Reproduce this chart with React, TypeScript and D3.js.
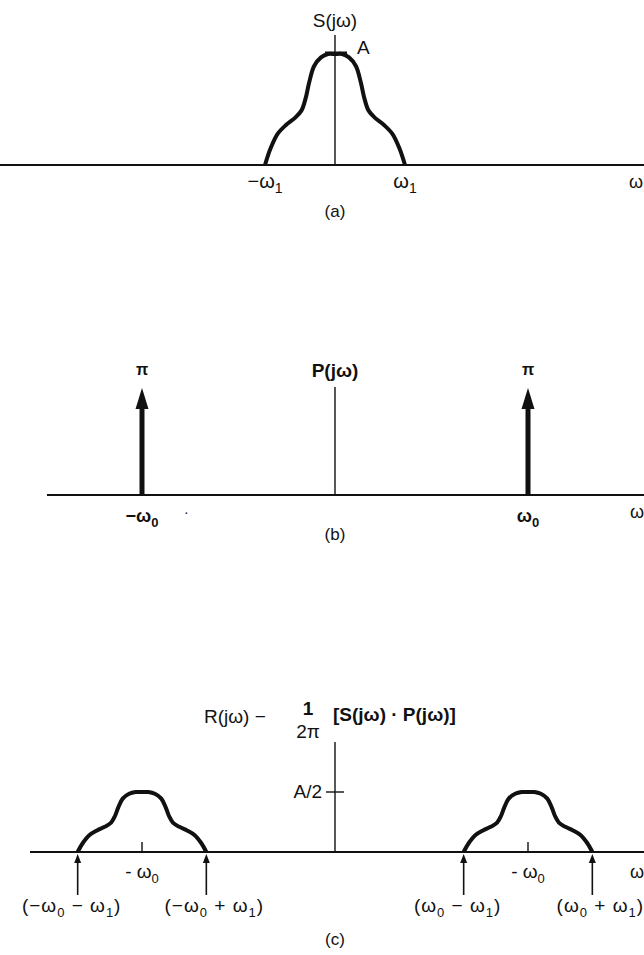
import * as d3 from 'd3'

// S(jω) pulse shape, ω in units of ω1, amplitude in units of A
const shapeW = [-1, -0.92, -0.82, -0.7, -0.58, -0.48, -0.42, -0.37, -0.3, -0.2, -0.1, 0, 0.1, 0.2, 0.3, 0.37, 0.42, 0.48, 0.58, 0.7, 0.82, 0.92, 1]
const shapeA = [0, 0.15, 0.28, 0.36, 0.42, 0.49, 0.6, 0.74, 0.89, 0.97, 1, 1, 1, 0.97, 0.89, 0.74, 0.6, 0.49, 0.42, 0.36, 0.28, 0.15, 0]

// P(jω): impulses at ±ω0 (ω0 = 3 ω1) with area π
const W0 = 3
const W1 = 1
const impulseW = [-W0, W0]
const impulseArea = [Math.PI, Math.PI]
const impulseLabels = ['−ω', 'ω']

// R(jω): replicas at ±ω0 scaled by 1/2
const replicaW = [-W0, W0]
const replicaGain = 0.5

const FONT = 'Liberation Sans, Arial, Helvetica, sans-serif'
const INK = '#111'

const xA = d3.scaleLinear().domain([-W1, W1]).range([265, 405])
const yA = d3.scaleLinear().domain([0, 1]).range([165, 54])
const xBC = d3.scaleLinear().domain([-W0, W0]).range([142, 528])
const yB = d3.scaleLinear().domain([0, Math.PI]).range([495, 388])
const yC = d3.scaleLinear().domain([0, 0.5]).range([852, 792])

const pts = shapeW.map((w, i) => ({ w, a: shapeA[i] }))

function Sub({ base, sub, size = 20, subSize = 14 }: { base: string; sub: string; size?: number; subSize?: number }) {
  return (
    <>
      <tspan fontSize={size}>{base}</tspan>
      <tspan fontSize={subSize} dy={5}>{sub}</tspan>
      <tspan dy={-5}></tspan>
    </>
  )
}

export default function App() {
  const lineA = d3
    .line<{ w: number; a: number }>()
    .x(d => xA(d.w))
    .y(d => yA(d.a))
    .curve(d3.curveCatmullRom)

  const replicaLine = (c: number) =>
    d3
      .line<{ w: number; a: number }>()
      .x(d => xBC(c + d.w * W1))
      .y(d => yC(d.a * replicaGain))
      .curve(d3.curveCatmullRom)(pts) ?? ''

  const cx = xA(0)

  return (
    <svg
      width={644}
      height={955}
      style={{ position: 'absolute', left: 0, top: 0, background: '#fff' }}
      fontFamily={FONT}
      fill={INK}
    >
      {/* ---------- (a) S(jω) ---------- */}
      <line x1={0} x2={644} y1={yA(0)} y2={yA(0)} stroke={INK} strokeWidth={1.8} />
      <line x1={cx} x2={cx} y1={35} y2={yA(0)} stroke={INK} strokeWidth={1.4} />
      <path d={lineA(pts) ?? ''} fill="none" stroke={INK} strokeWidth={4} strokeLinejoin="round" />
      <line x1={cx - 10} x2={cx + 12} y1={yA(1) - 1} y2={yA(1) - 1} stroke={INK} strokeWidth={3} />
      <text x={cx} y={27} textAnchor="middle" fontSize={19}>S(jω)</text>
      <text x={357} y={54} fontSize={19}>A</text>
      <text x={xA(-W1)} y={188} textAnchor="middle">
        <Sub base="−ω" sub="1" />
      </text>
      <text x={xA(W1)} y={188} textAnchor="middle">
        <Sub base="ω" sub="1" />
      </text>
      <text x={629} y={188} fontSize={18}>ω</text>
      <text x={cx} y={217} textAnchor="middle" fontSize={17}>(a)</text>

      {/* ---------- (b) P(jω) ---------- */}
      <line x1={47} x2={644} y1={yB(0)} y2={yB(0)} stroke={INK} strokeWidth={1.8} />
      <line x1={xBC(0)} x2={xBC(0)} y1={387} y2={yB(0)} stroke={INK} strokeWidth={1.4} />
      <text x={xBC(0)} y={377} textAnchor="middle" fontSize={19} fontWeight={700}>P(jω)</text>
      {impulseW.map((w, i) => {
        const x = xBC(w)
        const top = yB(impulseArea[i])
        return (
          <g key={i}>
            <line x1={x} x2={x} y1={yB(0)} y2={top + 16} stroke={INK} strokeWidth={5} />
            <path d={`M${x},${top} L${x - 6.5},${top + 21} L${x + 6.5},${top + 21} Z`} fill={INK} />
            <text x={x} y={375} textAnchor="middle" fontSize={16} fontWeight={700}>π</text>
            <text x={x} y={522} textAnchor="middle" fontWeight={700}>
              <Sub base={impulseLabels[i]} sub="0" size={18} subSize={13} />
            </text>
          </g>
        )
      })}
      <text x={184} y={517} fontSize={14}>·</text>
      <text x={630} y={518} fontSize={18}>ω</text>
      <text x={xBC(0)} y={540} textAnchor="middle" fontSize={17}>(b)</text>

      {/* ---------- (c) R(jω) ---------- */}
      <text x={204} y={723} fontSize={19}>R(jω) −</text>
      <text x={308} y={715} textAnchor="middle" fontSize={19} fontWeight={700}>1</text>
      <text x={308} y={738} textAnchor="middle" fontSize={19}>2π</text>
      <text x={333} y={721} fontSize={19} fontWeight={700}>[S(jω) · P(jω)]</text>

      <line x1={30} x2={644} y1={yC(0)} y2={yC(0)} stroke={INK} strokeWidth={1.8} />
      <line x1={xBC(0)} x2={xBC(0)} y1={742} y2={yC(0)} stroke={INK} strokeWidth={1.4} />
      <line x1={xBC(0) - 9} x2={xBC(0) + 9} y1={yC(0.5)} y2={yC(0.5)} stroke={INK} strokeWidth={1.4} />
      <text x={xBC(0) - 13} y={798} textAnchor="end" fontSize={19}>A/2</text>

      {replicaW.map((c, i) => {
        const edges = [c - W1, c + W1]
        const sign = c < 0 ? '−' : ''
        return (
          <g key={i}>
            <path d={replicaLine(c)} fill="none" stroke={INK} strokeWidth={4} strokeLinejoin="round" />
            <line x1={xBC(c)} x2={xBC(c)} y1={yC(0) - 10} y2={yC(0)} stroke={INK} strokeWidth={1.4} />
            <text x={xBC(c)} y={878} textAnchor="middle">
              <Sub base={'- ω'} sub="0" size={19} subSize={13} />
            </text>
            {edges.map((e, j) => {
              const x = xBC(e)
              return (
                <g key={j}>
                  <line x1={x} x2={x} y1={yC(0) + 8} y2={895} stroke={INK} strokeWidth={1.6} />
                  <path d={`M${x},${yC(0) + 2} L${x - 3.5},${yC(0) + 11} L${x + 3.5},${yC(0) + 11} Z`} fill={INK} />
                  <text x={x + (j === 0 ? -6 : 8)} y={912} textAnchor="middle" fontSize={19} letterSpacing={1}>
                    <tspan>{`(${sign}ω`}</tspan>
                    <tspan fontSize={13} dy={5}>0</tspan>
                    <tspan dy={-5}>{j === 0 ? ' − ω' : ' + ω'}</tspan>
                    <tspan fontSize={13} dy={5}>1</tspan>
                    <tspan dy={-5}>)</tspan>
                  </text>
                </g>
              )
            })}
          </g>
        )
      })}
      <text x={630} y={878} fontSize={18}>ω</text>
      <text x={xBC(0)} y={945} textAnchor="middle" fontSize={17}>(c)</text>
    </svg>
  )
}
